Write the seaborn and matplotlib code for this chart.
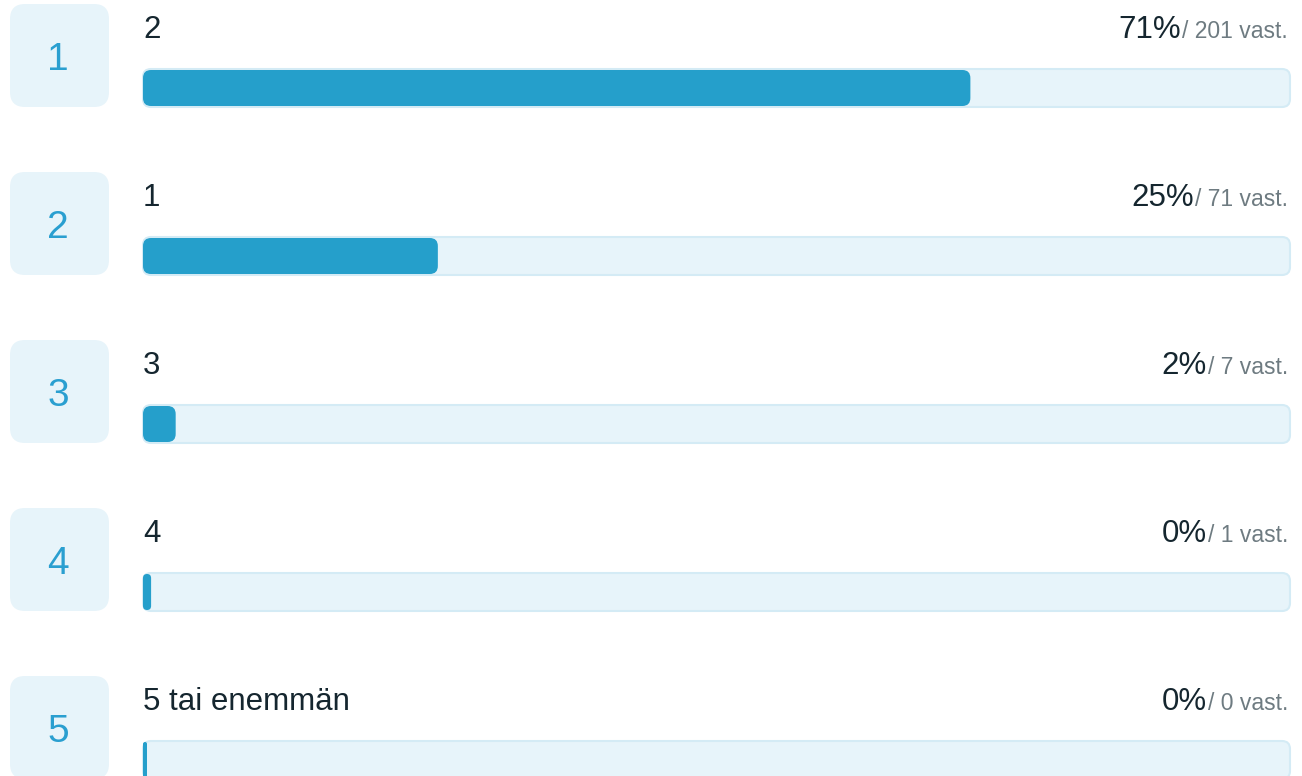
import numpy as np
import pandas as pd
import matplotlib
matplotlib.use("Agg")
import matplotlib.pyplot as plt
import seaborn as sns
from matplotlib.patches import FancyBboxPatch
from matplotlib.transforms import blended_transform_factory

# data
ranks = [1, 2, 3, 4, 5]
options = ["2", "1", "3", "4", "5 tai enemmän"]
counts = [201, 71, 7, 1, 0]
pct_labels = ["71%", "25%", "2%", "0%", "0%"]

total = sum(counts)
df = pd.DataFrame({
    "option": options,
    "share": [c / total * 100 for c in counts],
    "track": [100] * len(options),
})

# colours
FILL = "#259fcb"
TRACK = "#e7f4fa"
TRACK_EDGE = "#d4ebf5"
NUM = "#2a9fd0"
DARK = "#15262f"
GREY = "#6e7b81"

sns.set_theme(style="white")
plt.rcParams["font.family"] = ["Liberation Sans", "DejaVu Sans"]

W, H = 1302, 776
fig = plt.figure(figsize=(W / 100, H / 100), dpi=100)
ax = fig.add_axes([143 / W, 0, 1147 / W, 1])

sns.barplot(data=df, x="track", y="option", order=options, color=TRACK,
            width=38 / 168, ax=ax, orient="h")
sns.barplot(data=df, x="share", y="option", order=options, color=FILL,
            width=36 / 168, ax=ax, orient="h")

ax.set_xlim(0, 100)
ax.set_ylim((H - 88) / 168, -88 / 168)
ax.axis("off")

# pixels per data unit
px_x = 1147 / 100
px_y = 168

# turn the seaborn rectangles into rounded bars
rects = list(ax.patches)
n = len(options)
for i, r in enumerate(rects):
    x, y, w, h = r.get_x(), r.get_y(), r.get_width(), r.get_height()
    r.remove()
    is_fill = i >= n
    if is_fill:
        w = w + 4 / px_x  # the fill always shows a small stub
        rad = min(8 / px_x, w / 2)
        fc, ec, lw = FILL, "none", 0
    else:
        rad = 8 / px_x
        fc, ec, lw = TRACK, TRACK_EDGE, 1.5
    ax.add_patch(FancyBboxPatch(
        (x, y), w, h,
        boxstyle=f"round,pad=0,rounding_size={rad}",
        mutation_aspect=(1 / px_y) / (1 / px_x),
        fc=fc, ec=ec, lw=lw, clip_on=False, zorder=3 if is_fill else 2))

# rank boxes on the left
tr_box = blended_transform_factory(fig.transFigure, ax.transData)
fig_px = 1 / W
for i, rk in enumerate(ranks):
    ax.add_patch(FancyBboxPatch(
        (10 * fig_px, i - 84 / px_y), 99 * fig_px, 103 / px_y,
        boxstyle=f"round,pad=0,rounding_size={15 * fig_px}",
        mutation_aspect=(1 / px_y) / fig_px,
        transform=tr_box, fc=TRACK, ec="none", clip_on=False))
    ax.text(58 * fig_px, i - 18 / px_y, str(rk), transform=tr_box,
            ha="center", va="baseline", fontsize=28, color=NUM)

# option labels and percentages
ytr = ax.get_yaxis_transform()
fig.canvas.draw()
renderer = fig.canvas.get_renderer()
for i, (opt, c, p) in enumerate(zip(options, counts, pct_labels)):
    base = i - 50 / px_y
    ax.text(0, base, opt, transform=ytr, ha="left", va="baseline",
            fontsize=22.5, color=DARK)
    small = ax.text(1 - 2 / 1147, base, f"/ {c} vast.", transform=ytr,
                    ha="right", va="baseline", fontsize=16.5, color=GREY)
    bb = small.get_window_extent(renderer)
    left = ax.transAxes.inverted().transform((bb.x0, 0))[0]
    ax.text(left - 1 / 1147, base, p, transform=ytr, ha="right",
            va="baseline", fontsize=22.5, color=DARK)

fig.savefig("out.png", dpi=100)
